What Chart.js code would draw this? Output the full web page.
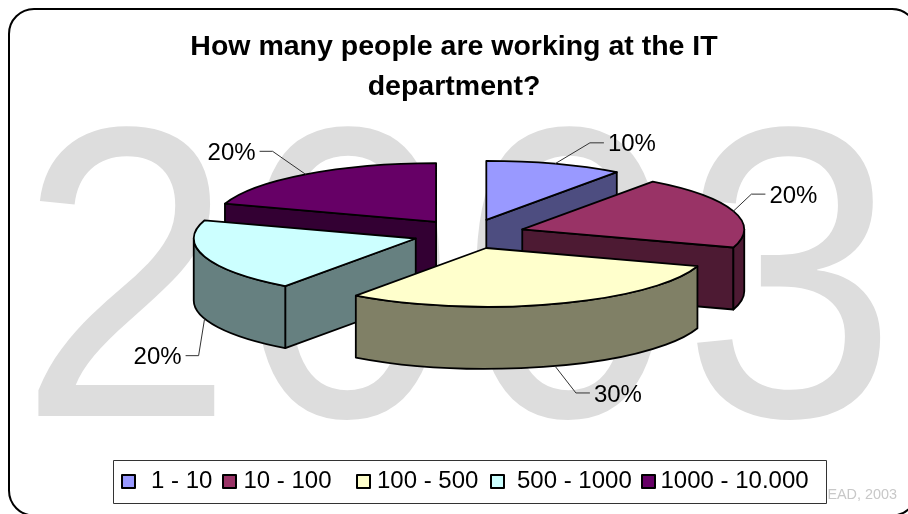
<!DOCTYPE html>
<html>
<head>
<meta charset="utf-8">
<style>
  html, body { margin: 0; padding: 0; background: #fff; }
  #wrap { width: 908px; height: 514px; }
</style>
<script src="https://cdn.jsdelivr.net/npm/chart.js@4"></script>
</head>
<body>
<div id="wrap"><canvas id="chart" width="908" height="514"></canvas></div>
<script>
const categories = ['1 - 10', '10 - 100', '100 - 500', '500 - 1000', '1000 - 10.000']
const shares = [10, 20, 30, 20, 20]
const topColors = ['#9999FF', '#993366', '#FFFFCC', '#CCFFFF', '#660066']
const wallColors = ['#4D4D80', '#4D1A33', '#808066', '#668080', '#330033']

const FONT = '"Liberation Sans", Arial, sans-serif'

// back slices first so the nearer ones cover them
const paintOrder = [0, 4, 1, 3, 2]
const tilt = 0.265
const wallHeight = 62
const explode = 56
const pieShiftX = 15

// leader elbow relative to the rim, then the run to the label: [dx, dy, run, gap]
const leaders = [[35, -21, 14, 4], [18, -17, 14, 4], [21, 27, 14, 4], [-6, 37, -13, -4], [-33, -23, -13, -4]]

// legend row
const legendBox = { x: 113, y: 460, w: 713, h: 43 }
const legendSwatchX = [122, 223, 357, 491, 642]
const legendTextX = [151, 243.5, 377, 517, 660.5]

function sliceGeometry(arc) {
  const p = arc.getProps(['x', 'y', 'startAngle', 'endAngle', 'outerRadius'], true)
  const mid = (p.startAngle + p.endAngle) / 2
  return {
    x: p.x + pieShiftX + Math.cos(mid) * explode,
    y: p.y + Math.sin(mid) * explode * tilt,
    r: p.outerRadius,
    a0: p.startAngle,
    a1: p.endAngle,
    mid
  }
}

function paint(ctx, fill) {
  ctx.closePath()
  ctx.fillStyle = fill
  ctx.fill()
  ctx.stroke()
}

function radialFace(ctx, g, angle, fill) {
  const ex = g.x + Math.cos(angle) * g.r
  const ey = g.y + Math.sin(angle) * g.r * tilt
  ctx.beginPath()
  ctx.moveTo(g.x, g.y)
  ctx.lineTo(ex, ey)
  ctx.lineTo(ex, ey + wallHeight)
  ctx.lineTo(g.x, g.y + wallHeight)
  paint(ctx, fill)
}

function drawSlice(ctx, g, i) {
  ctx.strokeStyle = '#000'
  ctx.lineWidth = 1.8
  ctx.lineJoin = 'round'

  // only the walls that face the viewer
  if (Math.cos(g.a0) < -0.001) radialFace(ctx, g, g.a0, wallColors[i])
  if (Math.cos(g.a1) > 0.001) radialFace(ctx, g, g.a1, wallColors[i])

  const from = Math.max(g.a0, 0)
  const to = Math.min(g.a1, Math.PI)
  if (to > from) {
    const ry = g.r * tilt
    ctx.beginPath()
    ctx.ellipse(g.x, g.y, g.r, ry, 0, from, to)
    ctx.ellipse(g.x, g.y + wallHeight, g.r, ry, 0, to, from, true)
    paint(ctx, wallColors[i])
  }

  ctx.beginPath()
  ctx.moveTo(g.x, g.y)
  ctx.ellipse(g.x, g.y, g.r, g.r * tilt, 0, g.a0, g.a1)
  paint(ctx, topColors[i])
}

function drawLeader(ctx, g, i) {
  const [dx, dy, run, gap] = leaders[i]
  const rimX = g.x + Math.cos(g.mid) * g.r
  let rimY = g.y + Math.sin(g.mid) * g.r * tilt
  if (Math.sin(g.mid) > 0) rimY += wallHeight

  ctx.strokeStyle = '#333'
  ctx.lineWidth = 1
  ctx.beginPath()
  ctx.moveTo(rimX, rimY)
  ctx.lineTo(rimX + dx, rimY + dy)
  ctx.lineTo(rimX + dx + run, rimY + dy)
  ctx.stroke()

  ctx.fillStyle = '#000'
  ctx.font = '24px ' + FONT
  ctx.textBaseline = 'middle'
  ctx.textAlign = run > 0 ? 'left' : 'right'
  ctx.fillText(shares[i] + '%', rimX + dx + run + gap, rimY + dy + 2)
}

const piePlugin = {
  id: 'pie3d',
  beforeDraw(chart) {
    const ctx = chart.ctx
    ctx.save()
    ctx.fillStyle = '#fff'
    ctx.fillRect(0, 0, chart.width, chart.height)

    // big year behind the pie
    ctx.fillStyle = '#DDDDDD'
    ctx.textAlign = 'left'
    ctx.textBaseline = 'alphabetic'
    ctx.font = '415px ' + FONT
    ctx.save()
    ctx.translate(19, 416)
    ctx.scale(0.93, 1)
    ctx.letterSpacing = '7px'
    ctx.fillText('2003', 0, 0)
    ctx.restore()

    // credit line, cut off by the legend
    ctx.fillStyle = '#C8C8C8'
    ctx.font = '14.4px ' + FONT
    ctx.textAlign = 'right'
    ctx.textBaseline = 'middle'
    ctx.fillText('EAD, 2003', 897, 495)

    // rounded frame runs past the right and bottom edges
    ctx.strokeStyle = '#000'
    ctx.lineWidth = 2
    ctx.beginPath()
    ctx.roundRect(9, 9, 908, 506.5, 25)
    ctx.stroke()
    ctx.restore()
  },
  beforeDatasetsDraw(chart) {
    const ctx = chart.ctx
    const arcs = chart.getDatasetMeta(0).data
    const geo = arcs.map(sliceGeometry)

    ctx.save()
    paintOrder.forEach(i => drawSlice(ctx, geo[i], i))
    geo.forEach((g, i) => drawLeader(ctx, g, i))

    // legend
    ctx.fillStyle = '#fff'
    ctx.strokeStyle = '#333'
    ctx.lineWidth = 1
    ctx.fillRect(legendBox.x, legendBox.y, legendBox.w, legendBox.h)
    ctx.strokeRect(legendBox.x + 0.5, legendBox.y + 0.5, legendBox.w, legendBox.h)
    categories.forEach((name, i) => {
      ctx.fillStyle = topColors[i]
      ctx.strokeStyle = '#000'
      ctx.lineWidth = 2
      ctx.fillRect(legendSwatchX[i], legendBox.y + 15, 13, 13)
      ctx.strokeRect(legendSwatchX[i], legendBox.y + 15, 13, 13)
      ctx.fillStyle = '#000'
      ctx.font = '24px ' + FONT
      ctx.textAlign = 'left'
      ctx.textBaseline = 'middle'
      ctx.fillText(name, legendTextX[i], legendBox.y + 21)
    })
    ctx.restore()
    return false
  }
}

new Chart(document.getElementById('chart'), {
  type: 'pie',
  data: {
    labels: categories,
    datasets: [{ data: shares, backgroundColor: topColors }]
  },
  options: {
    responsive: false,
    animation: false,
    radius: 222,
    layout: { padding: { bottom: 153 } },
    plugins: {
      legend: { display: false },
      tooltip: { enabled: false },
      title: {
        display: true,
        text: ['How many people are working at the IT', 'department?'],
        color: '#000',
        font: { family: FONT, size: 28.5, weight: 'bold', lineHeight: 1.4 },
        padding: { top: 27, bottom: 0 }
      }
    }
  },
  plugins: [piePlugin]
})
</script>
</body>
</html>
